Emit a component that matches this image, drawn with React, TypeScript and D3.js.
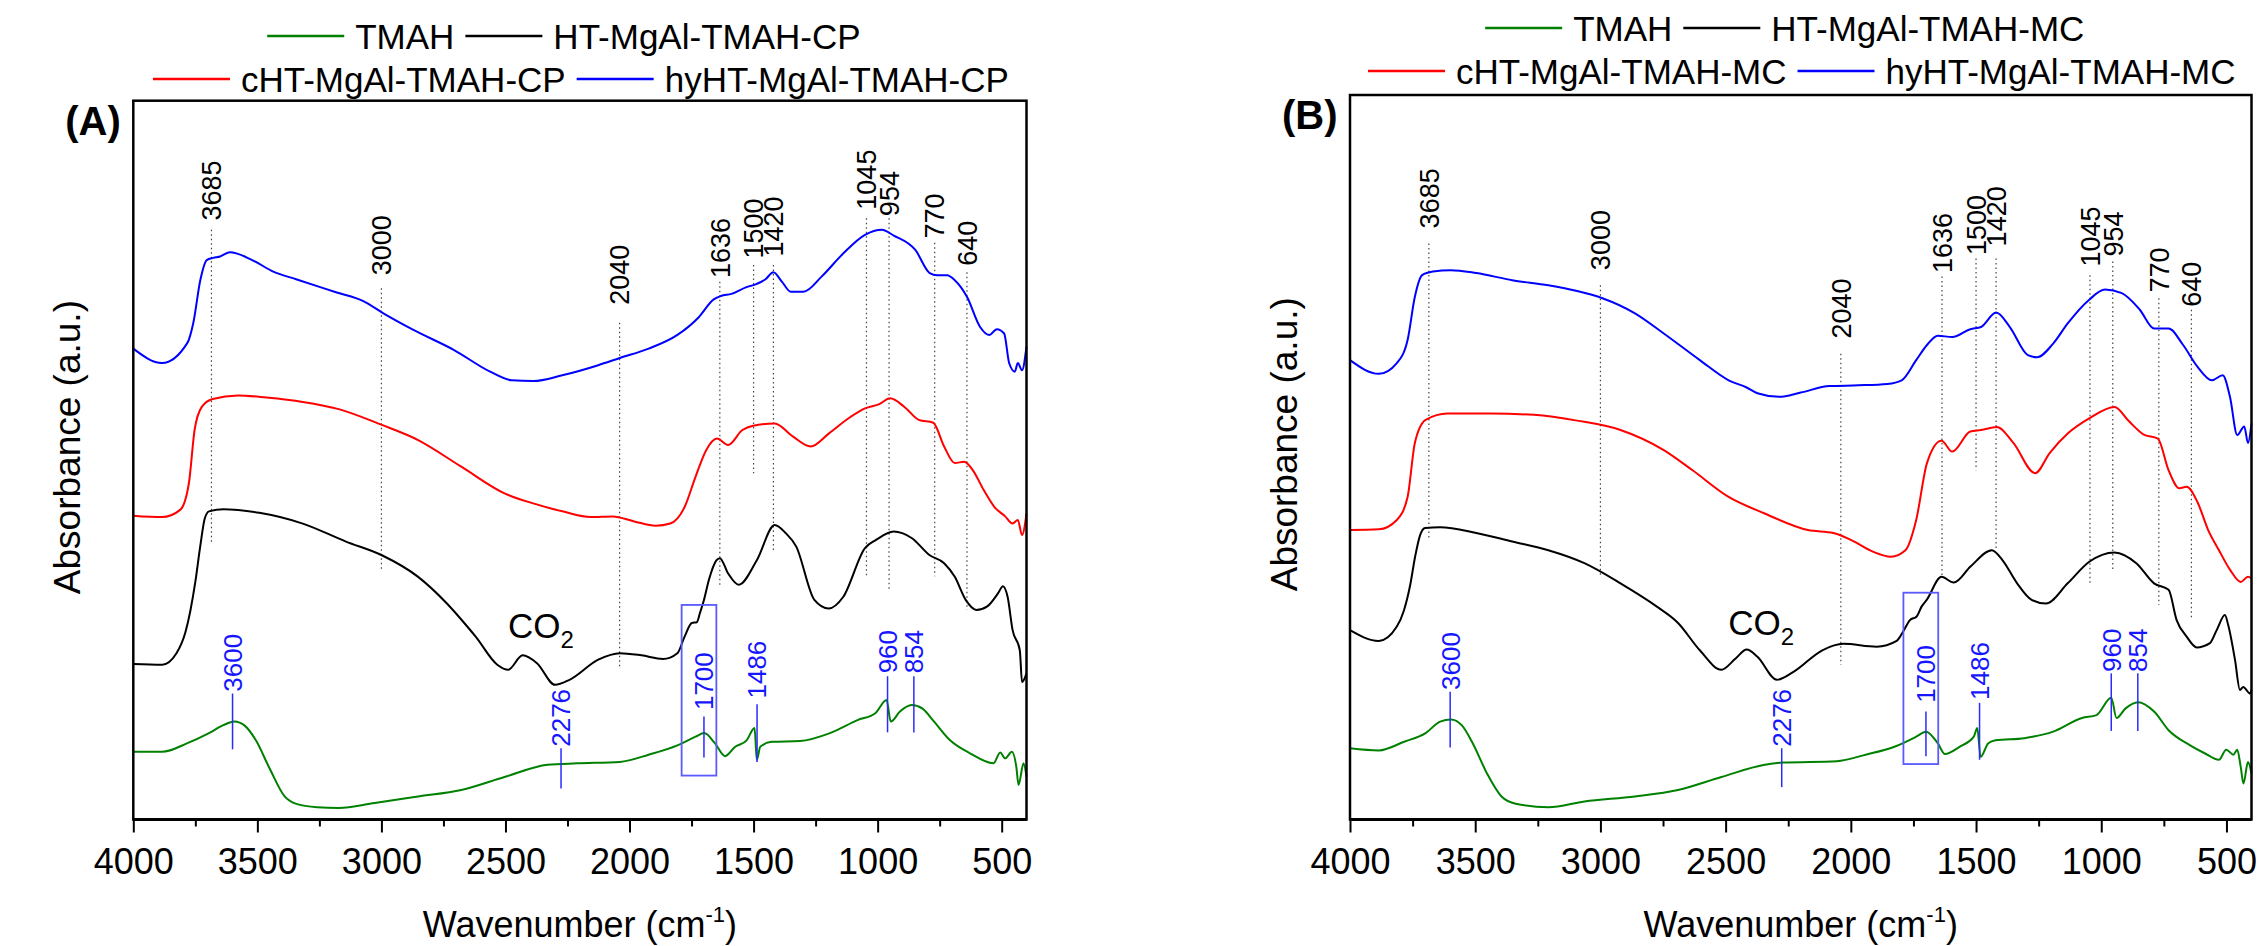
import React, { useEffect, useRef } from "react";
import * as d3 from "d3";

type Pt = [number, number];

const FONT = "'Liberation Sans', Arial, Helvetica, sans-serif";

// spectra: [wavenumber, absorbance (a.u., offset traces)]
const tmahA: Pt[] = [[4000,9.4],[3884,9.4],[3782,10.6],[3695,12.0],[3637,13.1],[3593,13.6],[3550,13.0],[3506,11.0],[3448,6.9],[3390,3.2],[3346,2.2],[3259,1.7],[3172,1.6],[3027,2.3],[2852,3.2],[2678,4.1],[2504,5.9],[2330,7.6],[2213,7.8],[2039,8.0],[1923,9.0],[1807,10.3],[1734,11.5],[1699,12.0],[1656,10.6],[1615,8.8],[1574,10.1],[1528,11.0],[1496,12.7],[1487,8.3],[1473,10.1],[1427,10.8],[1313,10.9],[1192,12.0],[1081,13.8],[1008,14.8],[964,16.6],[947,13.6],[910,15.0],[863,15.9],[819,15.4],[775,13.7],[708,11.0],[628,9.2],[533,7.8],[506,9.3],[486,8.5],[459,9.4],[441,7.3],[432,4.8],[412,7.8],[400,5.9]];
const htA: Pt[] = [[4000,21.6],[3884,21.5],[3826,23.1],[3790,26.0],[3770,29.0],[3750,33.0],[3730,38.0],[3712,41.8],[3695,42.8],[3637,43.1],[3492,42.6],[3317,41.1],[3143,38.6],[2998,36.7],[2852,33.7],[2736,30.0],[2649,26.6],[2620,25.4],[2533,21.5],[2489,20.8],[2431,22.8],[2373,21.7],[2300,18.7],[2242,19.4],[2126,22.2],[2039,23.1],[1952,22.8],[1865,22.3],[1807,23.1],[1778,25.4],[1749,27.3],[1729,27.4],[1716,28.7],[1700,30.5],[1680,33.3],[1650,36.0],[1636,36.3],[1603,34.2],[1560,32.6],[1487,36.0],[1415,40.9],[1371,39.8],[1328,37.9],[1255,30.5],[1197,29.3],[1139,30.9],[1051,37.7],[1008,38.8],[935,40.0],[863,39.1],[790,36.7],[732,35.6],[689,33.7],[645,30.5],[602,29.1],[558,29.6],[515,31.4],[495,32.4],[476,30.9],[456,26.3],[427,23.5],[418,19.1],[400,20.3]];
const chtA: Pt[] = [[4000,42.2],[3884,42.0],[3811,43.0],[3776,46.7],[3753,54.1],[3724,57.3],[3680,58.4],[3579,58.9],[3463,58.6],[3317,58.0],[3172,57.0],[2998,54.8],[2852,52.7],[2678,49.0],[2504,45.3],[2388,43.9],[2271,42.8],[2155,42.0],[2068,42.1],[1981,41.4],[1894,40.8],[1836,41.1],[1778,43.4],[1734,47.6],[1691,51.3],[1647,52.9],[1603,52.0],[1545,54.1],[1502,54.7],[1415,55.0],[1342,53.2],[1270,51.8],[1197,53.6],[1110,55.9],[1051,57.1],[993,57.7],[950,58.5],[892,57.3],[834,55.5],[776,55.1],[732,51.8],[689,49.5],[651,49.7],[616,48.5],[573,45.8],[529,43.4],[486,42.1],[456,41.1],[435,41.6],[418,39.5],[400,42.5]];
const hyhtA: Pt[] = [[4000,65.4],[3884,63.4],[3782,66.2],[3758,69.0],[3730,74.9],[3704,77.7],[3678,78.0],[3650,78.2],[3610,78.8],[3521,77.7],[3436,76.1],[3341,75.0],[3180,73.2],[3073,72.0],[2992,70.3],[2871,68.0],[2707,65.2],[2562,62.2],[2475,61.0],[2388,60.9],[2271,61.7],[2126,63.1],[2039,64.1],[1923,65.4],[1807,67.3],[1720,69.8],[1662,72.2],[1632,72.7],[1589,73.0],[1531,73.9],[1487,74.4],[1453,75.0],[1420,76.0],[1386,74.7],[1350,73.3],[1299,73.3],[1226,75.4],[1139,78.6],[1051,81.2],[983,81.9],[935,81.1],[848,79.1],[790,75.9],[760,75.6],[720,75.6],[689,74.9],[640,72.6],[587,68.4],[551,67.3],[519,68.1],[490,67.5],[470,63.4],[447,62.2],[435,63.4],[418,62.4],[400,65.7]];

const tmahB: Pt[] = [[4000,9.9],[3885,9.6],[3784,10.8],[3698,12.0],[3640,13.6],[3597,13.9],[3554,13.1],[3510,10.6],[3453,6.4],[3395,3.2],[3338,2.2],[3208,1.7],[3064,2.5],[2862,3.2],[2690,4.1],[2517,5.9],[2344,7.6],[2272,7.9],[2056,8.1],[1941,9.0],[1826,10.1],[1739,11.5],[1700,12.2],[1653,10.6],[1624,9.1],[1566,10.1],[1509,11.5],[1495,12.7],[1482,8.7],[1451,10.6],[1422,11.0],[1307,11.3],[1192,12.2],[1077,14.1],[1019,14.5],[960,16.9],[939,14.1],[904,15.4],[853,16.3],[789,15.0],[731,12.4],[645,10.3],[587,9.2],[530,8.3],[501,9.7],[472,9.0],[457,9.7],[443,7.3],[432,5.0],[414,8.0],[400,6.4]];
const htB: Pt[] = [[4000,26.3],[3885,24.8],[3813,26.8],[3785,29.0],[3760,32.5],[3740,36.5],[3720,39.5],[3700,40.5],[3640,40.6],[3496,39.8],[3352,38.6],[3208,37.4],[3064,35.6],[2920,32.8],[2776,29.6],[2690,27.3],[2603,23.5],[2517,20.8],[2459,22.4],[2416,23.6],[2373,22.6],[2295,19.4],[2229,20.5],[2114,23.5],[2030,24.4],[1897,24.0],[1817,24.8],[1791,26.1],[1764,27.7],[1737,28.2],[1717,29.6],[1697,30.5],[1638,33.7],[1589,32.9],[1523,35.1],[1437,37.4],[1394,36.0],[1336,32.8],[1278,30.5],[1221,30.0],[1134,32.8],[1048,35.8],[947,37.1],[860,35.6],[789,32.8],[731,31.9],[699,27.7],[659,25.4],[619,23.9],[566,24.5],[539,26.3],[506,28.4],[493,27.0],[466,22.2],[446,18.0],[433,18.4],[406,17.5],[400,18.0]];
const chtB: Pt[] = [[4000,40.2],[3885,40.3],[3813,41.6],[3770,44.8],[3741,52.3],[3698,55.5],[3611,56.4],[3438,56.4],[3266,56.2],[3093,55.4],[2920,54.1],[2747,51.3],[2632,48.5],[2488,44.8],[2344,42.5],[2171,40.2],[2070,39.8],[1998,38.8],[1912,37.2],[1840,36.5],[1782,37.4],[1739,41.6],[1696,49.5],[1638,52.6],[1595,51.1],[1523,53.9],[1480,54.1],[1417,54.5],[1351,52.3],[1264,48.1],[1206,50.9],[1134,53.6],[1048,55.7],[947,57.3],[889,55.3],[832,53.5],[774,52.9],[731,48.5],[688,46.0],[659,46.2],[616,44.1],[573,40.2],[530,37.4],[486,34.7],[443,33.0],[414,33.7],[400,33.5]];
const hyhtB: Pt[] = [[4000,63.8],[3885,61.9],[3813,63.4],[3770,66.6],[3741,72.6],[3712,75.6],[3669,76.1],[3597,76.3],[3496,75.9],[3352,74.9],[3208,74.2],[3093,73.4],[2992,72.4],[2862,70.3],[2747,67.5],[2603,63.8],[2488,61.0],[2416,60.0],[2373,59.2],[2286,58.7],[2200,59.3],[2085,60.2],[1970,60.3],[1854,60.5],[1797,61.0],[1739,63.8],[1696,65.9],[1653,67.2],[1595,67.0],[1523,68.1],[1480,68.4],[1420,70.4],[1365,68.4],[1293,64.5],[1256,64.2],[1192,66.1],[1134,68.9],[1048,72.2],[985,73.6],[918,73.1],[846,70.8],[789,68.2],[731,68.2],[673,65.9],[616,62.9],[558,61.0],[515,61.7],[486,58.7],[457,53.4],[429,54.6],[414,52.3],[400,55.0]];

const namesA = ["TMAH", "HT-MgAl-TMAH-CP", "cHT-MgAl-TMAH-CP", "hyHT-MgAl-TMAH-CP"];
const namesB = ["TMAH", "HT-MgAl-TMAH-MC", "cHT-MgAl-TMAH-MC", "hyHT-MgAl-TMAH-MC"];
const colors = ["#008000", "#000000", "#ff0000", "#0000ff"];

// band markers: [wavenumber, line top, line bottom, label start] (a.u.)
const bandsA = [[3685,81.9,38.5,83.2],[3000,73.8,34.7,75.6],[2040,69.0,21.2,71.5],[1636,74.7,32.6,75.2],[1500,77.0,48.1,77.9],[1420,77.0,37.0,78.2],[1045,83.5,33.7,84.7],[954,83.5,31.9,83.8],[770,80.1,33.8,80.7],[640,76.0,29.1,76.9]];
const bandsB = [[3685,80.0,39.1,82.1],[3000,74.2,34.0,76.3],[2040,64.7,21.5,66.8],[1636,75.4,33.7,75.9],[1500,77.9,48.5,78.4],[1420,77.9,37.4,79.6],[1045,75.6,32.8,76.8],[954,77.5,34.4,78.2],[770,72.4,29.8,73.2],[640,70.8,28.1,71.2]];

// TMAH peaks: [wavenumber, line top, line bottom, label start]
const peaksA = [[3600,17.5,9.75,17.75],[2276,9.9,4.3,10.1],[1700,14.3,8.6,15.2],[1486,16.0,8.0,16.8],[960,19.9,12.1,20.3],[854,19.9,12.1,20.3]];
const peaksB = [[3600,17.75,10.0,18.0],[2276,9.9,4.5,10.1],[1700,15.0,8.8,16.2],[1486,16.2,8.3,16.6],[960,20.3,12.3,20.5],[854,20.3,12.3,20.5]];

// highlighted region: [wn from, wn to, top, bottom]
const boxA = [1790, 1650, 29.8, 6.1];
const boxB = [1790, 1651, 31.5, 7.7];
const co2A = [2490, 25.2];
const co2B = [2490, 25.6];

const majorTicks = [4000, 3500, 3000, 2500, 2000, 1500, 1000, 500];
const minorTicks = [3750, 3250, 2750, 2250, 1750, 1250, 750];

const panels = [
  { tag: "(A)", left: 133.3, right: 1026.5, top: 100.7, bottom: 819.5, legendY: [36, 79], names: namesA,
    series: [tmahA, htA, chtA, hyhtA], bands: bandsA, peaks: peaksA, box: boxA, co2: co2A },
  { tag: "(B)", left: 1350, right: 2251.5, top: 95, bottom: 819.5, legendY: [28, 71], names: namesB,
    series: [tmahB, htB, chtB, hyhtB], bands: bandsB, peaks: peaksB, box: boxB, co2: co2B },
];

function drawPanel(svg: any, p: any) {
  const x = d3.scaleLinear().domain([4000, 400]).range([p.left, p.right]);
  const y = d3.scaleLinear().domain([0, (p.bottom - p.top) / 7.2]).range([p.bottom, p.top]);
  const g = svg.append("g").attr("font-family", FONT);

  // dotted band lines + labels
  g.selectAll(null).data(p.bands).enter().append("line")
    .attr("x1", (d: number[]) => x(d[0])).attr("x2", (d: number[]) => x(d[0]))
    .attr("y1", (d: number[]) => y(d[1])).attr("y2", (d: number[]) => y(d[2]))
    .attr("stroke", "#444").attr("stroke-width", 1.2).attr("stroke-dasharray", "1.5,3");
  g.selectAll(null).data(p.bands).enter().append("text")
    .attr("transform", (d: number[]) => `translate(${x(d[0])},${y(d[3])}) rotate(-90)`)
    .attr("dy", "0.36em").attr("font-size", 27).attr("fill", "#000")
    .text((d: number[]) => d[0]);

  // spectra
  const line = d3.line<Pt>().x((d) => x(d[0])).y((d) => y(d[1])).curve(d3.curveMonotoneX);
  p.series.forEach((s: Pt[], i: number) => {
    g.append("path").datum(s).attr("d", line).attr("fill", "none")
      .attr("stroke", colors[i]).attr("stroke-width", 2);
  });

  // TMAH peak markers
  g.selectAll(null).data(p.peaks).enter().append("line")
    .attr("x1", (d: number[]) => x(d[0])).attr("x2", (d: number[]) => x(d[0]))
    .attr("y1", (d: number[]) => y(d[1])).attr("y2", (d: number[]) => y(d[2]))
    .attr("stroke", "#2a2aff").attr("stroke-width", 1.5);
  g.selectAll(null).data(p.peaks).enter().append("text")
    .attr("transform", (d: number[]) => `translate(${x(d[0])},${y(d[3])}) rotate(-90)`)
    .attr("dy", "0.36em").attr("font-size", 26).attr("fill", "#1515ff")
    .text((d: number[]) => d[0]);
  g.append("rect")
    .attr("x", x(p.box[0])).attr("width", x(p.box[1]) - x(p.box[0]))
    .attr("y", y(p.box[2])).attr("height", y(p.box[3]) - y(p.box[2]))
    .attr("fill", "none").attr("stroke", "#5a5aff").attr("stroke-width", 1.8);

  // CO2 note
  const co = g.append("text").attr("x", x(p.co2[0])).attr("y", y(p.co2[1]))
    .attr("font-size", 35).attr("fill", "#000").text("CO");
  co.append("tspan").attr("font-size", 24).attr("dy", 10).text("2");

  // frame
  g.append("rect").attr("x", p.left).attr("y", p.top)
    .attr("width", p.right - p.left).attr("height", p.bottom - p.top)
    .attr("fill", "none").attr("stroke", "#000").attr("stroke-width", 2.5);
  g.append("line").attr("x1", p.left).attr("x2", p.right).attr("y1", p.bottom).attr("y2", p.bottom)
    .attr("stroke", "#000").attr("stroke-width", 3);

  // x axis
  const ax = g.append("g").attr("transform", `translate(0,${p.bottom})`)
    .call(d3.axisBottom(x).tickValues(majorTicks).tickSize(13).tickPadding(16).tickFormat(d3.format("d")));
  ax.select(".domain").remove();
  ax.selectAll("line").attr("stroke", "#000").attr("stroke-width", 2);
  ax.selectAll("text").attr("font-size", 36).attr("font-family", FONT).attr("fill", "#000");
  const mx = g.append("g").attr("transform", `translate(0,${p.bottom})`)
    .call(d3.axisBottom(x).tickValues(minorTicks).tickSize(7).tickFormat(() => ""));
  mx.select(".domain").remove();
  mx.selectAll("line").attr("stroke", "#000").attr("stroke-width", 2);

  // axis titles
  const xt = g.append("text").attr("x", (p.left + p.right) / 2).attr("y", p.bottom + 117.5)
    .attr("text-anchor", "middle").attr("font-size", 36).attr("fill", "#000").text("Wavenumber (cm");
  xt.append("tspan").attr("font-size", 22).attr("dy", -15).text("-1");
  xt.append("tspan").attr("font-size", 36).attr("dy", 15).text(")");

  g.append("text")
    .attr("transform", `translate(${p.left - 53},${(p.top + p.bottom) / 2 - 13}) rotate(-90)`)
    .attr("text-anchor", "middle").attr("font-size", 37).attr("fill", "#000").text("Absorbance (a.u.)");

  g.append("text").attr("x", p.left - 68).attr("y", p.top + 34)
    .attr("font-size", 40).attr("font-weight", "bold").attr("fill", "#000").text(p.tag);

  // legend, two rows
  const rows = [[0, 1], [2, 3]];
  const shift = [-16, 1];
  rows.forEach((row, ri) => {
    const rg = g.append("g");
    let cx = 0;
    row.forEach((si, k) => {
      if (k > 0) cx += 11;
      rg.append("line").attr("x1", cx).attr("x2", cx + 77).attr("y1", 0).attr("y2", 0)
        .attr("stroke", colors[si]).attr("stroke-width", 2.5);
      cx += 77 + 11;
      const t = rg.append("text").attr("x", cx).attr("y", 13).attr("font-size", 35)
        .attr("fill", "#000").text(p.names[si]);
      cx += (t.node() as SVGTextElement).getComputedTextLength();
    });
    const mid = (p.left + p.right) / 2 + shift[ri];
    rg.attr("transform", `translate(${mid - cx / 2},${p.legendY[ri]})`);
  });
}

export default function App() {
  const ref = useRef<SVGSVGElement>(null);

  useEffect(() => {
    const svg = d3.select(ref.current);
    svg.selectAll("*").remove();
    panels.forEach((p) => drawPanel(svg, p));
  }, []);

  return (
    <svg ref={ref} width={2260} height={946}
      style={{ position: "absolute", left: 0, top: 0, background: "#fff" }} />
  );
}
